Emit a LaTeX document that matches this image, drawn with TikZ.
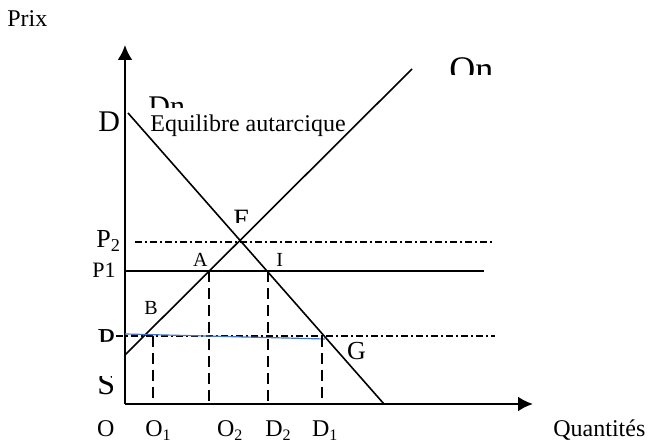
\documentclass[tikz,border=0pt]{standalone}
\usepackage{fontspec}
\setmainfont{Liberation Serif}
\usetikzlibrary{arrows.meta}
\definecolor{lineblue}{RGB}{68,114,196}

\begin{document}
\begin{tikzpicture}[x=0.5pt, y=0.5pt,
    every node/.style={font=\fontsize{12}{14}\selectfont, inner sep=0pt, anchor=base west},
    axisline/.style={line width=1.2pt, -{Latex[length=7.5pt,width=7.5pt]}},
    curve/.style={line width=0.8pt},
    priceline/.style={line width=0.8pt, dash pattern=on 3.5pt off 1.5pt on 1pt off 1.5pt},
    guideline/.style={line width=0.7pt, dash pattern=on 5.5pt off 3pt},
    big/.style={font=\fontsize{15}{18}\selectfont}]
    \useasboundingbox (-125,-40) rectangle (529,404);

    % Axes
    \coordinate (O) at (0,0);
    \coordinate (ytop) at (0,359);
    \coordinate (xend) at (408,0);
    \draw[axisline] (O) -- (ytop);
    \draw[axisline] (O) -- (xend);

    % Supply (On) and demand (Dn)
    \coordinate (sup-a) at (0,49);
    \coordinate (sup-b) at (287,335);
    \coordinate (dem-a) at (3,291);
    \coordinate (dem-b) at (259,0);
    \draw[curve] (sup-a) -- (sup-b);
    \draw[curve] (dem-a) -- (dem-b);

    % Price levels
    \draw[priceline] (10,162) -- (370,162);
    \draw[curve] (0,133) -- (359,133);
    \draw[priceline] (-9,68) -- (370,68);
    \draw[lineblue, line width=0.6pt] (0,70) -- (200,65);

    % Quantities
    \draw[guideline] (28,68) -- (28,0);
    \draw[guideline] (84,133) -- (84,0);
    \draw[guideline] (143,133) -- (143,0);
    \draw[guideline] (197,68) -- (197,0);

    % Labels
    \node (prix) at (-118,377) {Prix};
    \begin{scope}
      \clip (0,296) rectangle (80,340);
      \node[big] (Dn) at (23,287) {Dn};
    \end{scope}
    \node[big] (Dlbl) at (-27,272) {D};
    \node (equil) at (25,272) {Equilibre autarcique};
    \begin{scope}
      \clip (300,329) rectangle (420,380);
      \node[font=\fontsize{18}{20}\selectfont] (On) at (324,322) {On};
    \end{scope}
    \begin{scope}
      \clip (100,181) rectangle (140,210);
      \node[font=\fontsize{14}{16}\selectfont] (E) at (108,175.5) {E};
    \end{scope}
    \node[font=\fontsize{13}{15}\selectfont] (P2) at (-29,156) {P\textsubscript{2}};
    \node[font=\fontsize{11}{13}\selectfont] (P1) at (-33,126) {P1};
    \node[font=\fontsize{10}{12}\selectfont] (A) at (67.7,137.3) {A};
    \node[font=\fontsize{10}{12}\selectfont] (I) at (151,137.3) {I};
    \node[font=\fontsize{10}{12}\selectfont] (B) at (19,89) {B};
    \node[font=\fontsize{13}{15}\selectfont] (G) at (221.7,44) {G};
    \begin{scope}
      \clip (-40,62) rectangle (-5,100);
      \node[font=\fontsize{16}{18}\selectfont] (P) at (-28,53) {P};
    \end{scope}
    \begin{scope}
      \clip (-40,0) rectangle (-5,27);
      \node[font=\fontsize{16}{18}\selectfont] (S) at (-28,9) {S};
    \end{scope}
    \node (Olbl) at (-28.3,-33) {O};
    \node (O1) at (20,-33) {O\textsubscript{1}};
    \node (O2) at (91.7,-33) {O\textsubscript{2}};
    \node (D2lbl) at (140,-33) {D\textsubscript{2}};
    \node (D1lbl) at (186.7,-33) {D\textsubscript{1}};
    \node (quant) at (428,-33) {Quantités};
\end{tikzpicture}
\end{document}
